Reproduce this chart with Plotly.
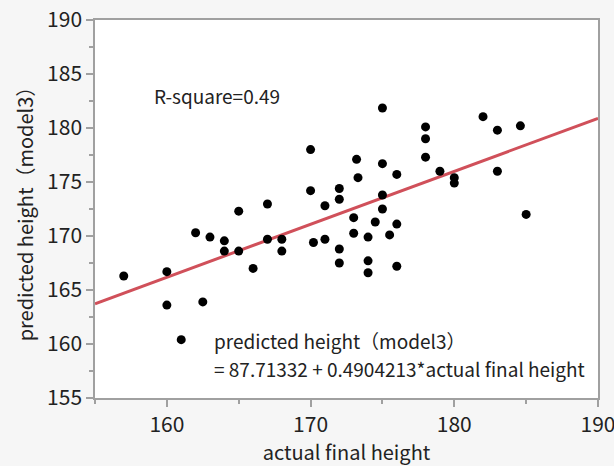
import plotly.graph_objects as go

actual = [157, 160, 160, 161, 162, 162.5, 163, 164, 164, 165, 165, 166, 167, 167, 168, 168,
          170, 170, 170.2, 171, 171, 172, 172, 172, 172, 173, 173, 173.2, 173.3, 174, 174, 174,
          174.5, 175, 175, 175, 175, 175.5, 176, 176, 176, 178, 178, 178, 179, 180, 180,
          182, 183, 183, 184.6, 185]
predicted = [166.3, 166.7, 163.6, 160.4, 170.3, 163.9, 169.9, 169.55, 168.6, 172.3, 168.6, 167.0,
             172.96, 169.7, 169.7, 168.6, 178.0, 174.2, 169.4, 172.8, 169.7, 174.4, 173.4, 168.8,
             167.5, 171.7, 170.25, 177.1, 175.4, 169.9, 167.7, 166.6, 171.3, 181.85, 176.7, 173.8,
             172.5, 170.1, 175.7, 171.1, 167.2, 180.1, 179.0, 177.3, 176.0, 175.4, 174.9,
             181.05, 179.8, 176.0, 180.2, 172.0]

intercept = 87.71332
slope = 0.4904213
x_range = [155, 190]
y_range = [155, 190]
line_x = x_range
line_y = [intercept + slope * v for v in line_x]

font_family = "Noto Sans CJK JP, Noto Sans, sans-serif"
text_color = "#222222"
axis_color = "#a0a0a0"

fig = go.Figure()
fig.add_trace(go.Scatter(x=line_x, y=line_y, mode="lines",
                         line=dict(color="#d0505a", width=3), hoverinfo="skip"))
fig.add_trace(go.Scatter(x=actual, y=predicted, mode="markers",
                         marker=dict(color="black", size=9)))

fig.update_layout(
    width=614, height=466,
    margin=dict(l=95, r=16, t=20, b=68),
    paper_bgcolor="#f6f6f6", plot_bgcolor="white",
    showlegend=False,
    font=dict(family=font_family, color=text_color, size=20),
)
axis_common = dict(
    showgrid=False, zeroline=False, showline=True, linecolor=axis_color, linewidth=1.5,
    mirror=True, ticks="outside", ticklen=7, tickcolor=axis_color, tickwidth=1.5,
    tickfont=dict(size=21, family=font_family, color=text_color),
    ticklabeloverflow="allow", automargin=False,
    minor=dict(ticks="outside", ticklen=4, tickcolor=axis_color, tickwidth=1.5),
)
fig.update_xaxes(range=x_range, dtick=10, tick0=160, minor_dtick=5,
                 title=dict(text="actual final height", standoff=6, font=dict(size=20)),
                 **axis_common)
fig.update_yaxes(range=y_range, dtick=5, tick0=155, minor_dtick=2.5,
                 title=dict(text="predicted height（model3）", standoff=8, font=dict(size=20)),
                 **axis_common)

ann_font = dict(size=19, family=font_family, color=text_color)
fig.add_annotation(x=0.113, y=0.80, xref="paper", yref="paper", xanchor="left", yanchor="middle",
                   text="R-square=0.49", showarrow=False, font=ann_font)
fig.add_annotation(x=0.232, y=0.152, xref="paper", yref="paper", xanchor="left", yanchor="middle",
                   text="predicted height（model3）", showarrow=False, font=ann_font)
fig.add_annotation(x=0.232, y=0.078, xref="paper", yref="paper", xanchor="left", yanchor="middle",
                   text="= 87.71332 + 0.4904213*actual final height", showarrow=False, font=ann_font)

fig.write_html("out.html")
